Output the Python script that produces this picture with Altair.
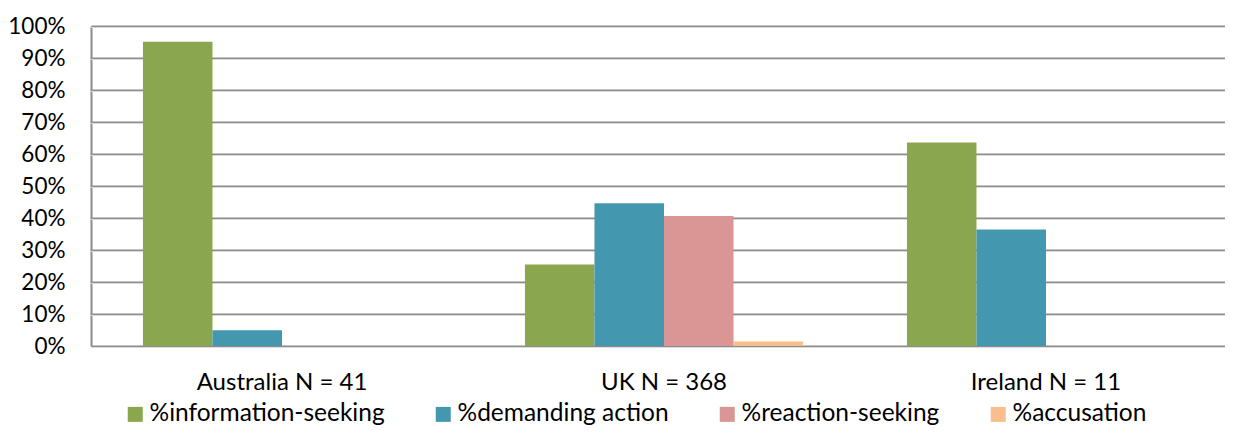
import altair as alt
import pandas as pd

groups = ["Australia N = 41", "UK N = 368", "Ireland N = 11"]
series = ["%information-seeking", "%demanding action", "%reaction-seeking", "%accusation"]
info = [0.951, 0.255, 0.636]
demand = [0.049, 0.446, 0.364]
reaction = [0.0, 0.406, 0.0]
accusation = [0.0, 0.014, 0.0]
colors = ["#8AA64E", "#4398AF", "#D99694", "#F8BE8C"]
y_ticks = [0, 0.1, 0.2, 0.3, 0.4, 0.5, 0.6, 0.7, 0.8, 0.9, 1.0]

rows = []
for i, g in enumerate(groups):
    for s, vals in zip(series, [info, demand, reaction, accusation]):
        rows.append({"group": g, "series": s, "value": vals[i]})
df = pd.DataFrame(rows)
grid_df = pd.DataFrame({"v": y_ticks})

FONT = "Lato"

yscale = alt.Scale(domain=[0, 1], nice=False)
yaxis = alt.Axis(title=None, values=y_ticks, format=".0%", ticks=False,
                 labelPadding=26, labelFontSize=22.5, labelColor="black",
                 labelFont=FONT, grid=True, gridColor="#8C8C8C",
                 gridWidth=2, domain=True, domainColor="#8C8C8C",
                 domainWidth=2)

shadow = alt.Chart(grid_df).mark_rule(color="#DCDCDC", strokeWidth=1, yOffset=1.5).encode(
    y=alt.Y("v:Q", scale=yscale, axis=yaxis)
)

bars = alt.Chart(df).mark_bar().encode(
    x=alt.X("group:N", sort=groups,
            scale=alt.Scale(paddingInner=0.272, paddingOuter=0.136, range=[0, 1146]),
            axis=alt.Axis(title=None, labelAngle=0, ticks=False, domain=False,
                          labelPadding=24, labelFontSize=24, labelColor="black",
                          labelFont=FONT, grid=False)),
    xOffset=alt.XOffset("series:N", sort=series,
                        scale=alt.Scale(domain=series, paddingInner=0, paddingOuter=0)),
    y=alt.Y("value:Q", scale=yscale, axis=yaxis),
    color=alt.Color("series:N", sort=series,
                    scale=alt.Scale(domain=series, range=colors),
                    legend=alt.Legend(title=None, orient="none", legendX=32, legendY=376,
                                      direction="horizontal", symbolType="square",
                                      symbolSize=225, symbolStrokeWidth=0,
                                      labelFontSize=24.5, labelFont=FONT, labelColor="black",
                                      labelLimit=0, columnPadding=46, labelOffset=2)),
)

chart = alt.layer(shadow, bars).properties(
    width=1134, height=320,
    autosize=alt.AutoSizeParams(type="none"),
    padding={"left": 83, "top": 18, "right": 0, "bottom": 80},
).configure_view(stroke=None).configure(background="white")

chart.save("out.html", embed_options={"renderer": "svg", "actions": False})
